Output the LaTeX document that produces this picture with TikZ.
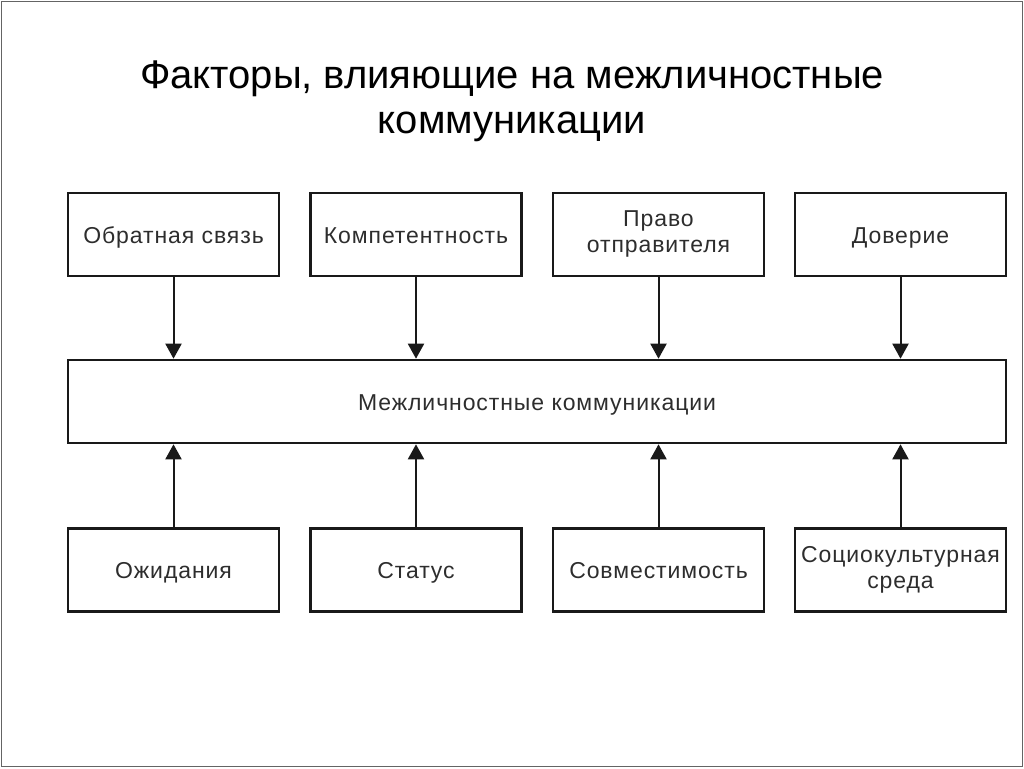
\documentclass[tikz,border=0pt]{standalone}
\usepackage{fontspec}
\setmainfont{Liberation Sans}
\usetikzlibrary{arrows.meta, positioning}
\definecolor{framegray}{RGB}{100,100,100}
\definecolor{inkblack}{RGB}{25,25,25}
\definecolor{labelgray}{RGB}{45,45,45}

\begin{document}
\begin{tikzpicture}[x=1pt, y=-1pt,
    factor/.style={draw=inkblack, line width=2.6pt, minimum width=211pt, minimum height=83pt,
        align=center, inner sep=0pt, text=labelgray,
        font=\fontsize{23}{26}\selectfont\addfontfeature{LetterSpace=4},
        execute at begin node=\rule{0pt}{23pt},
        execute at end node=\rule[-6pt]{0pt}{6pt}},
    link/.style={inkblack, line width=2pt, -{Triangle[length=15pt, width=16pt]}}]
    \useasboundingbox (0,0) rectangle (1024,768);

    % frame
    \draw[framegray, line width=1.5pt] (1.5,1.5) rectangle (1022.5,766.5);

    % title
    \node[font=\fontsize{40}{45}\selectfont, align=center] (title) at (512,101)
        {Факторы, влияющие на межличностные\\коммуникации};

    % upper factors
    \node[factor] (feedback) at (173.5,234.5) {Обратная связь};
    \node[factor] (competence) at (416,234.5) {Компетентность};
    \node[factor] (senderright) at (658.5,234.5) {Право\\отправителя};
    \node[factor] (trust) at (900.5,234.5) {Доверие};

    % centre
    \node[factor, minimum width=938pt] (centre) at (537,401.5) {Межличностные коммуникации};

    % lower factors
    \node[factor] (expect) at (173.5,570) {Ожидания};
    \node[factor] (status) at (416,570) {Статус};
    \node[factor] (compat) at (658.5,570) {Совместимость};
    \node[factor] (socio) at (900.5,570) {Социокультурная\\среда};

    % arrows
    \foreach \n in {feedback, competence, senderright, trust} {
        \draw[link] (\n.south) -- (\n.south |- centre.north);
    }
    \foreach \n in {expect, status, compat, socio} {
        \draw[link] (\n.north) -- (\n.north |- centre.south);
    }
\end{tikzpicture}
\end{document}
